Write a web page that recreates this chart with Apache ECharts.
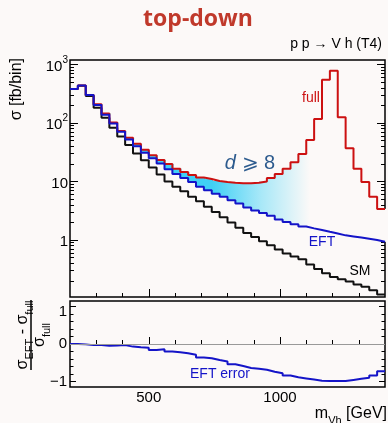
<!DOCTYPE html>
<html>
<head>
<meta charset="utf-8">
<script src="https://cdn.jsdelivr.net/npm/echarts@6/dist/echarts.min.js"></script>
<style>
  html, body { margin: 0; padding: 0; background: #fcf9f8; }
  #chart { width: 388px; height: 423px; }
</style>
</head>
<body>
<div id="chart"></div>
<script>
// bin edges in m_Vh [GeV], 30 GeV bins
const massEdges = [200, 230, 260, 290, 320, 350, 380, 410, 440, 470, 500, 530, 560, 590, 620, 650, 680, 710, 740, 770,
  800, 830, 860, 890, 920, 950, 980, 1010, 1040, 1070, 1100, 1130, 1160, 1190, 1220, 1250, 1280, 1310, 1340, 1370, 1400];

// sigma [fb/bin] per bin
const sigmaSM = [380, 435, 290, 182, 123, 83, 59, 42, 30, 23, 17.4, 13.2, 10.0, 8.1, 6.8, 5.5, 4.6, 3.7, 3.0, 2.45,
  2.0, 1.62, 1.32, 1.12, 0.95, 0.81, 0.69, 0.59, 0.52, 0.47, 0.38, 0.32, 0.27, 0.234, 0.214, 0.195, 0.174, 0.158, 0.138, 0.117];
const sigmaEFT = [380, 437, 302, 204, 138, 98, 71, 52, 40, 31, 25, 20.4, 16.2, 13.5, 11.5, 9.8, 8.1, 7.1, 6.2, 5.5,
  4.8, 4.2, 3.6, 3.2, 2.9, 2.6, 2.24, 2.04, 1.86, 1.70, 1.58, 1.48, 1.38, 1.29, 1.20, 1.15, 1.10, 1.05, 1.00, 0.93];
const sigmaFull = [380, 437, 302, 209, 146, 102, 73, 56, 44, 35, 28, 23.4, 20, 16.6, 14.5, 12.9, 11.7, 11.0, 10.2, 9.8,
  9.5, 9.3, 9.3, 9.5, 10.0, 11.5, 13.5, 16.6, 21.4, 29.5, 51, 117, 550, 780, 126, 37, 16.6, 9.8, 5.5, 3.4];

// (sigma_EFT - sigma_full) / sigma_full per bin
const eftError = [0.0, -0.01, -0.03, -0.03, -0.05, -0.04, -0.03, -0.07, -0.09, -0.10, -0.16, -0.14, -0.20, -0.22, -0.25,
  -0.29, -0.36, -0.38, -0.43, -0.47, -0.54, -0.59, -0.64, -0.66, -0.69, -0.74, -0.78, -0.84, -0.89, -0.92, -0.95,
  -0.98, -0.99, -0.99, -0.99, -0.96, -0.93, -0.90, -0.84, -0.73];

// tick positions
const xMajorTicks = [500, 1000];
const xMinorTicks = [300, 400, 600, 700, 800, 900, 1100, 1200, 1300];
const yMajorTicks = [1, 10, 100, 1000];
const yMinorTicks = [0.2, 0.3, 0.4, 0.5, 0.6, 0.7, 0.8, 0.9, 2, 3, 4, 5, 6, 7, 8, 9,
  20, 30, 40, 50, 60, 70, 80, 90, 200, 300, 400, 500, 600, 700, 800, 900];
const ratioMajorTicks = [-1, 0, 1];
const ratioMinorTicks = [-0.8, -0.6, -0.4, -0.2, 0.2, 0.4, 0.6, 0.8];

const FONT = '"Liberation Sans", Arial, sans-serif';

function steps(vals) {
  const out = vals.map((v, i) => [massEdges[i], v]);
  out.push([massEdges[vals.length], vals[vals.length - 1]]);
  return out;
}
// one box per bin between EFT and full
const bandData = sigmaEFT.map((v, i) => [massEdges[i], massEdges[i + 1], v, sigmaFull[i]]);

function xAxisDef(grid, ticks, len, labels) {
  return {
    type: 'value', gridIndex: grid, min: 200, max: 1400, position: 'bottom',
    axisLine: { show: false }, splitLine: { show: false },
    axisTick: { show: true, inside: true, length: len, customValues: ticks, lineStyle: { color: '#000', width: 1 } },
    axisLabel: labels ? {
      show: true, customValues: ticks, margin: 3, fontSize: 15, fontFamily: FONT, color: '#000',
      formatter: (v) => String(v)
    } : { show: false }
  };
}

function logAxisDef(pos, ticks, len, labels) {
  return {
    type: 'log', logBase: 10, gridIndex: 0, min: 0.106, max: 1195, position: pos,
    axisLine: { show: false }, splitLine: { show: false }, minorTick: { show: false },
    axisTick: { show: true, inside: true, length: len, customValues: ticks, lineStyle: { color: '#000', width: 1 } },
    axisLabel: labels ? {
      show: true, customValues: ticks, margin: 2, fontFamily: FONT, color: '#000',
      formatter: (v) => {
        const p = Math.round(Math.log10(v));
        if (p >= 2) return '{m|10}{p|' + p + '}';
        return '{m|' + (p === 1 ? '10' : '1') + '}';
      },
      rich: {
        m: { fontSize: 15, lineHeight: 19, verticalAlign: 'bottom', fontFamily: FONT, color: '#000' },
        p: { fontSize: 10, lineHeight: 10, verticalAlign: 'top', fontFamily: FONT, color: '#000' }
      }
    } : { show: false }
  };
}

function ratioAxisDef(pos, ticks, len, labels) {
  return {
    type: 'value', gridIndex: 1, min: -1.15, max: 1.15, position: pos,
    axisLine: { show: false }, splitLine: { show: false },
    axisTick: { show: true, inside: true, length: len, customValues: ticks, lineStyle: { color: '#000', width: 1 } },
    axisLabel: labels ? {
      show: true, customValues: ticks, margin: 3, fontSize: 15, fontFamily: FONT, color: '#000',
      formatter: (v) => v === 1 ? '{t|1}' : (v < 0 ? '\u22121' : '0'),
      rich: { t: { fontSize: 15, fontFamily: FONT, color: '#000', padding: [11, 0, 0, 0] } }
    } : { show: false }
  };
}

function stepLine(name, data, color, xi, yi) {
  return {
    name: name, type: 'line', step: 'end', data: data, xAxisIndex: xi, yAxisIndex: yi,
    showSymbol: false, symbol: 'none', silent: true, animation: false,
    lineStyle: { color: color, width: 2 }
  };
}

// opaque fade from cyan to the page colour, in pixel coordinates
const bandFill = new echarts.graphic.LinearGradient(212, 0, 310, 0, [
  { offset: 0, color: '#40d0f5' },
  { offset: 0.5, color: '#a8e8f8' },
  { offset: 1, color: '#fcf9f8' }
], true);

const chart = echarts.init(document.getElementById('chart'), null, { renderer: 'canvas' });

const option = {
  backgroundColor: '#fcf9f8',
  animation: false,
  textStyle: { fontFamily: FONT },
  grid: [
    { left: 70, top: 60, width: 315, height: 237, show: true, borderColor: '#000', borderWidth: 1.5,
      backgroundColor: 'transparent', containLabel: false, outerBoundsMode: 'none' },
    { left: 70, top: 301, width: 315, height: 86, show: true, borderColor: '#000', borderWidth: 1.5,
      backgroundColor: 'transparent', containLabel: false, outerBoundsMode: 'none' }
  ],
  xAxis: [
    xAxisDef(0, xMinorTicks, 4, false),
    xAxisDef(0, xMajorTicks, 8, false),
    xAxisDef(1, xMinorTicks, 4, false),
    xAxisDef(1, xMajorTicks, 7, true)
  ],
  yAxis: [
    logAxisDef('left', yMajorTicks, 8, true),
    logAxisDef('left', yMinorTicks, 4, false),
    logAxisDef('right', yMajorTicks, 8, false),
    logAxisDef('right', yMinorTicks, 4, false),
    ratioAxisDef('left', ratioMajorTicks, 6, true),
    ratioAxisDef('left', ratioMinorTicks, 3.5, false),
    ratioAxisDef('right', ratioMajorTicks, 6, false),
    ratioAxisDef('right', ratioMinorTicks, 3.5, false)
  ],
  series: [
    {
      type: 'custom', xAxisIndex: 0, yAxisIndex: 0, silent: true, data: bandData,
      encode: { x: [0, 1], y: [2, 3] },
      renderItem: (params, api) => {
        const p0 = api.coord([api.value(0), api.value(3)]);
        const p1 = api.coord([api.value(1), api.value(2)]);
        return {
          type: 'rect',
          shape: { x: p0[0], y: p0[1], width: p1[0] - p0[0] + 1.2, height: p1[1] - p0[1] },
          style: { fill: bandFill }
        };
      }
    },
    stepLine('SM', steps(sigmaSM), '#111111', 0, 0),
    stepLine('full', steps(sigmaFull), '#cc1111', 0, 0),
    stepLine('EFT', steps(sigmaEFT), '#1414c8', 0, 0),
    Object.assign(stepLine('EFT error', steps(eftError), '#1414c8', 2, 4), {
      markLine: {
        silent: true, symbol: 'none', label: { show: false }, animation: false,
        lineStyle: { color: '#999999', width: 1, type: 'solid' },
        data: [{ yAxis: 0 }]
      }
    })
  ],
  graphic: [
    { type: 'text', x: 198, y: 19, silent: true,
      style: { text: 'top-down', font: 'bold 23px "Open Sans", sans-serif', fill: '#c0392b',
        align: 'center', verticalAlign: 'middle', textAlign: 'center', textVerticalAlign: 'middle' } },
    { type: 'text', x: 382, y: 44, silent: true,
      style: { text: 'p p \u2192 V h (T4)', font: '14px ' + FONT, fill: '#000',
        align: 'right', verticalAlign: 'middle', textAlign: 'right', textVerticalAlign: 'middle' } },
    { type: 'text', x: 17, y: 58, rotation: Math.PI / 2, silent: true,
      style: { text: '\u03c3 [fb/bin]', font: '16px ' + FONT, fill: '#000',
        align: 'right', verticalAlign: 'middle', textAlign: 'right', textVerticalAlign: 'middle' } },
    { type: 'text', x: 311, y: 98, silent: true,
      style: { text: 'full', font: '14px ' + FONT, fill: '#cc1111',
        align: 'center', verticalAlign: 'middle', textAlign: 'center', textVerticalAlign: 'middle' } },
    { type: 'text', x: 322, y: 242, silent: true,
      style: { text: 'EFT', font: '14px ' + FONT, fill: '#1414c8',
        align: 'center', verticalAlign: 'middle', textAlign: 'center', textVerticalAlign: 'middle' } },
    { type: 'text', x: 360, y: 271, silent: true,
      style: { text: 'SM', font: '14px ' + FONT, fill: '#000',
        align: 'center', verticalAlign: 'middle', textAlign: 'center', textVerticalAlign: 'middle' } },
    { type: 'text', x: 250, y: 163, silent: true,
      style: { text: '{i|d} \u2A7E 8', font: '20px ' + FONT, fill: '#2d5b8e',
        rich: { i: { fontStyle: 'italic', fontSize: 20, fontFamily: FONT, fill: '#2d5b8e', color: '#2d5b8e' } },
        align: 'center', verticalAlign: 'middle', textAlign: 'center', textVerticalAlign: 'middle' } },
    { type: 'text', x: 190, y: 374, silent: true,
      style: { text: 'EFT error', font: '14px ' + FONT, fill: '#1414c8',
        align: 'left', verticalAlign: 'middle', textAlign: 'left', textVerticalAlign: 'middle' } },
    { type: 'text', x: 387, y: 414, silent: true,
      style: { text: '{m|m}{s|Vh}{m| [GeV]}', fill: '#000',
        rich: {
          m: { fontSize: 16, lineHeight: 16, verticalAlign: 'top', fontFamily: FONT, color: '#000' },
          s: { fontSize: 11, lineHeight: 11, verticalAlign: 'top', padding: [9, 0, 0, 0], fontFamily: FONT, color: '#000' }
        },
        align: 'right', verticalAlign: 'middle', textAlign: 'right', textVerticalAlign: 'middle' } },
    // ratio axis title as a rotated fraction
    { type: 'group', x: 31, y: 335, rotation: Math.PI / 2, silent: true,
      children: [
        { type: 'line', shape: { x1: -35, y1: 0, x2: 35, y2: 0 }, style: { stroke: '#000', lineWidth: 1.5 } },
        { type: 'text', x: 0, y: -8,
          style: { text: '{m|\u03c3}{s|EFT}{m| - \u03c3}{s|full}', fill: '#000',
            rich: {
              m: { fontSize: 16, lineHeight: 16, verticalAlign: 'top', fontFamily: FONT, color: '#000' },
              s: { fontSize: 11, lineHeight: 11, verticalAlign: 'top', padding: [9, 0, 0, 0], fontFamily: FONT, color: '#000' }
            },
            align: 'center', verticalAlign: 'middle', textAlign: 'center', textVerticalAlign: 'middle' } },
        { type: 'text', x: 0, y: 9,
          style: { text: '{m|\u03c3}{s|full}', fill: '#000',
            rich: {
              m: { fontSize: 16, lineHeight: 16, verticalAlign: 'top', fontFamily: FONT, color: '#000' },
              s: { fontSize: 11, lineHeight: 11, verticalAlign: 'top', padding: [9, 0, 0, 0], fontFamily: FONT, color: '#000' }
            },
            align: 'center', verticalAlign: 'middle', textAlign: 'center', textVerticalAlign: 'middle' } }
      ]
    }
  ]
};

chart.setOption(option);
</script>
</body>
</html>
